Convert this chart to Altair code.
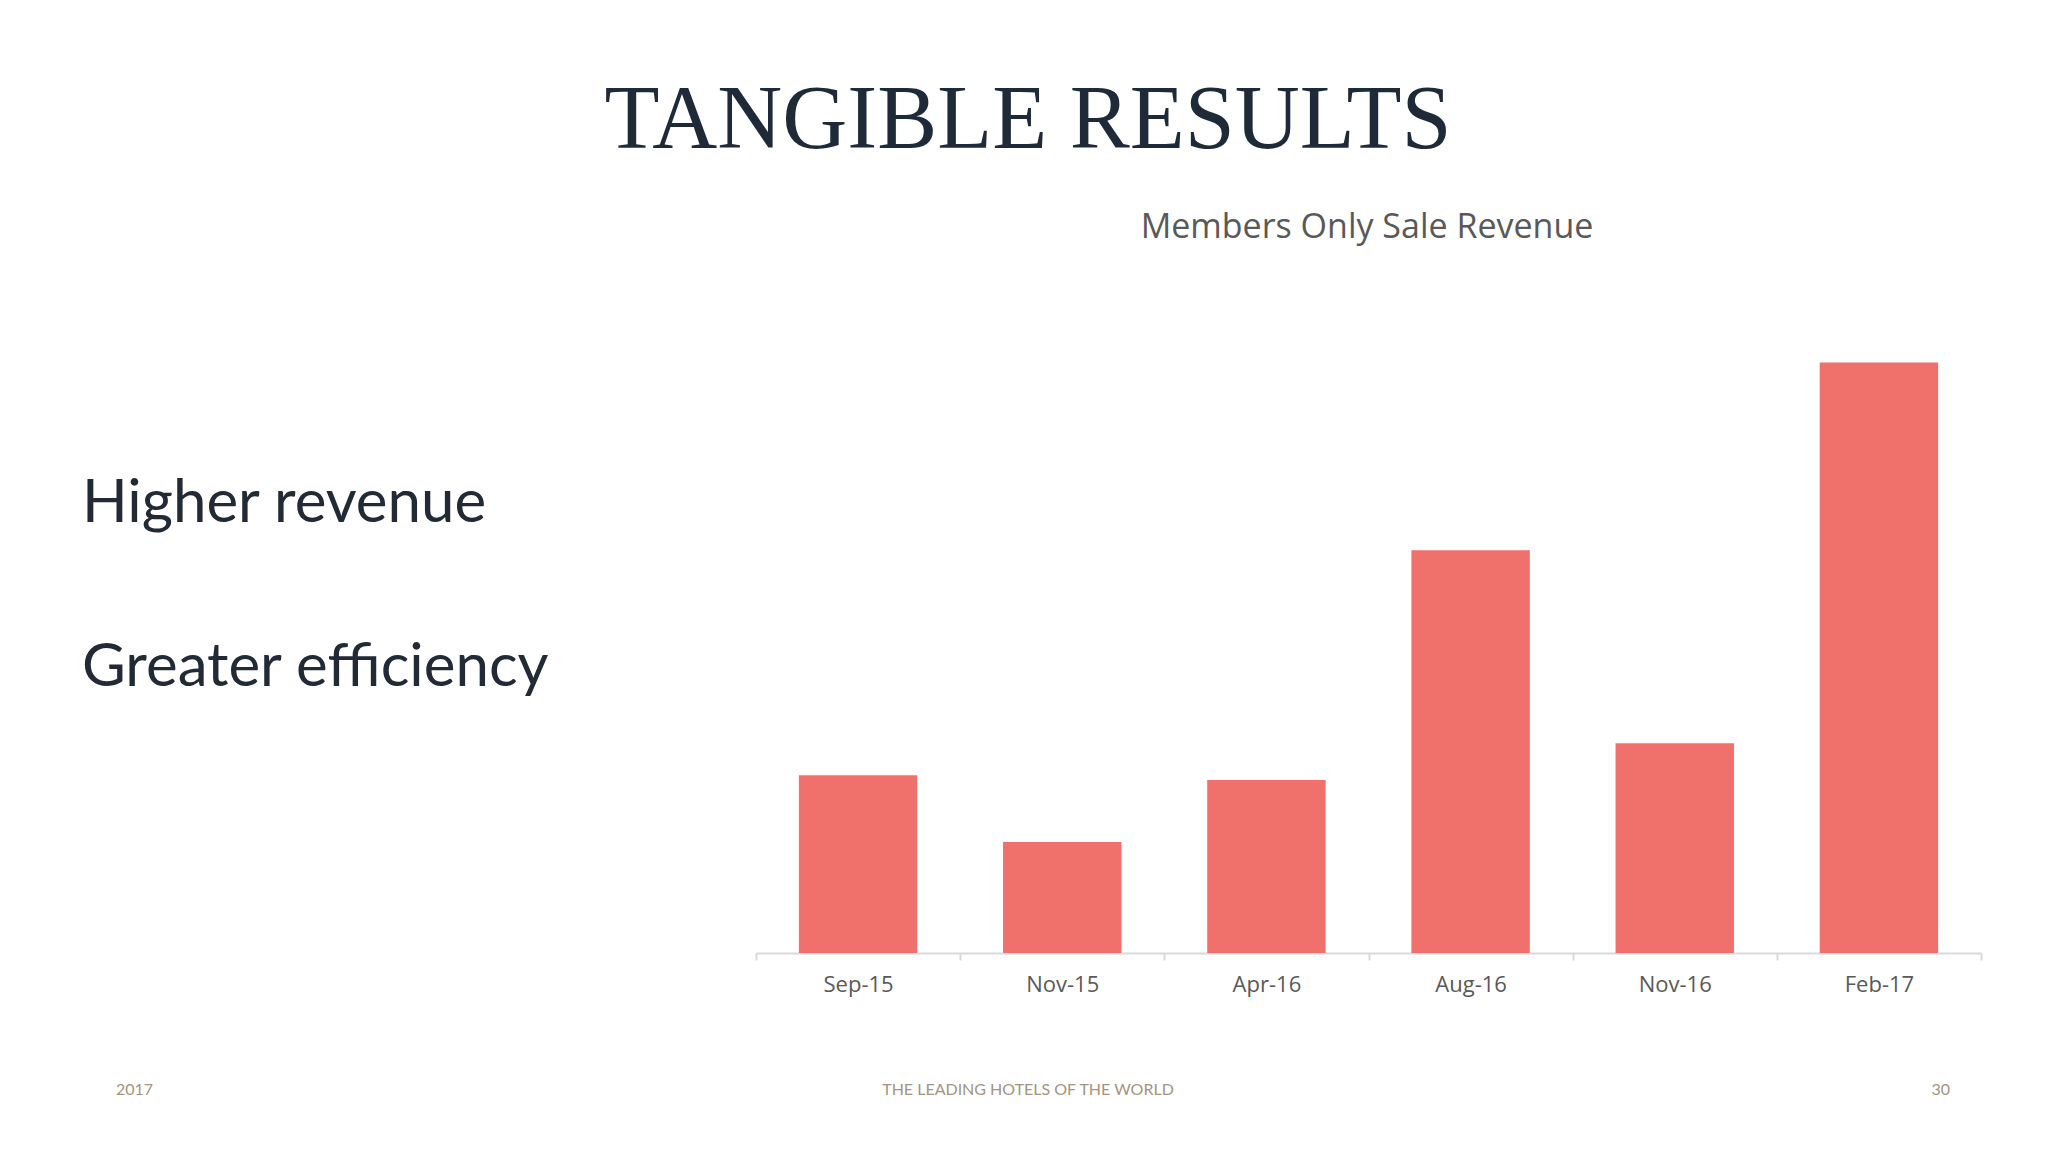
import altair as alt
import pandas as pd

# ---- data ----
months = ["Sep-15", "Nov-15", "Apr-16", "Aug-16", "Nov-16", "Feb-17"]
revenue = [30.1, 18.8, 29.3, 68.2, 35.5, 100.0]

title_text = "TANGIBLE RESULTS"
subtitle_text = "Members Only Sale Revenue"
bullets = ["Higher revenue", "Greater efficiency"]
footer_left = "2017"
footer_center = "THE LEADING HOTELS OF THE WORLD"
footer_right = "30"

df = pd.DataFrame({"month": months, "revenue": revenue})
one = pd.DataFrame({"k": [0]})

W = 2032
H = 945

bars = alt.Chart(df).mark_bar(color="#f0706c", width=alt.RelativeBandSize(0.58)).encode(
    x=alt.X(
        "month:N",
        sort=months,
        title=None,
        scale=alt.Scale(range=[748, 1973], paddingInner=0, paddingOuter=0),
        axis=alt.Axis(
            labelAngle=0,
            labelFont="Open Sans",
            labelFontSize=22,
            labelColor="#595959",
            labelPadding=14,
            domainColor="#d9d9d9",
            domainWidth=2,
            tickColor="#d9d9d9",
            tickWidth=2,
            tickSize=7,
            tickBand="extent",
            grid=False,
        ),
    ),
    y=alt.Y("revenue:Q", scale=alt.Scale(domain=[0, 160]), axis=None),
)


def txt(text, x, y, size, font, color, align="left", baseline="alphabetic", weight="normal"):
    return alt.Chart(one).mark_text(
        text=text,
        font=font,
        fontSize=size,
        color=color,
        align=align,
        baseline=baseline,
        fontWeight=weight,
    ).encode(x=alt.value(x), y=alt.value(y))


layers = [
    bars,
    txt(title_text, 1020, 140, 90, "Liberation Serif", "#1f2a38", align="center"),
    txt(subtitle_text, 1359, 230, 34, "Open Sans", "#595959", align="center"),
    txt(bullets[0], 74, 514, 60, "Lato", "#222a35"),
    txt(bullets[1], 74, 678, 60, "Lato", "#222a35"),
    txt(footer_left, 108, 1087, 16, "Lato", "#a3957e"),
    txt(footer_center, 1020, 1087, 16, "Lato", "#a3957e", align="center"),
    txt(footer_right, 1942, 1087, 16, "Lato", "#a3957e", align="right"),
]

chart = alt.layer(*layers).properties(
    width=W,
    height=H,
    autosize=alt.AutoSizeParams(type="none"),
    padding={"left": 0, "top": 0, "right": 0, "bottom": 191},
    background="white",
).configure_view(stroke=None)

chart.save("out.html", embed_options={"renderer": "svg", "actions": False})
